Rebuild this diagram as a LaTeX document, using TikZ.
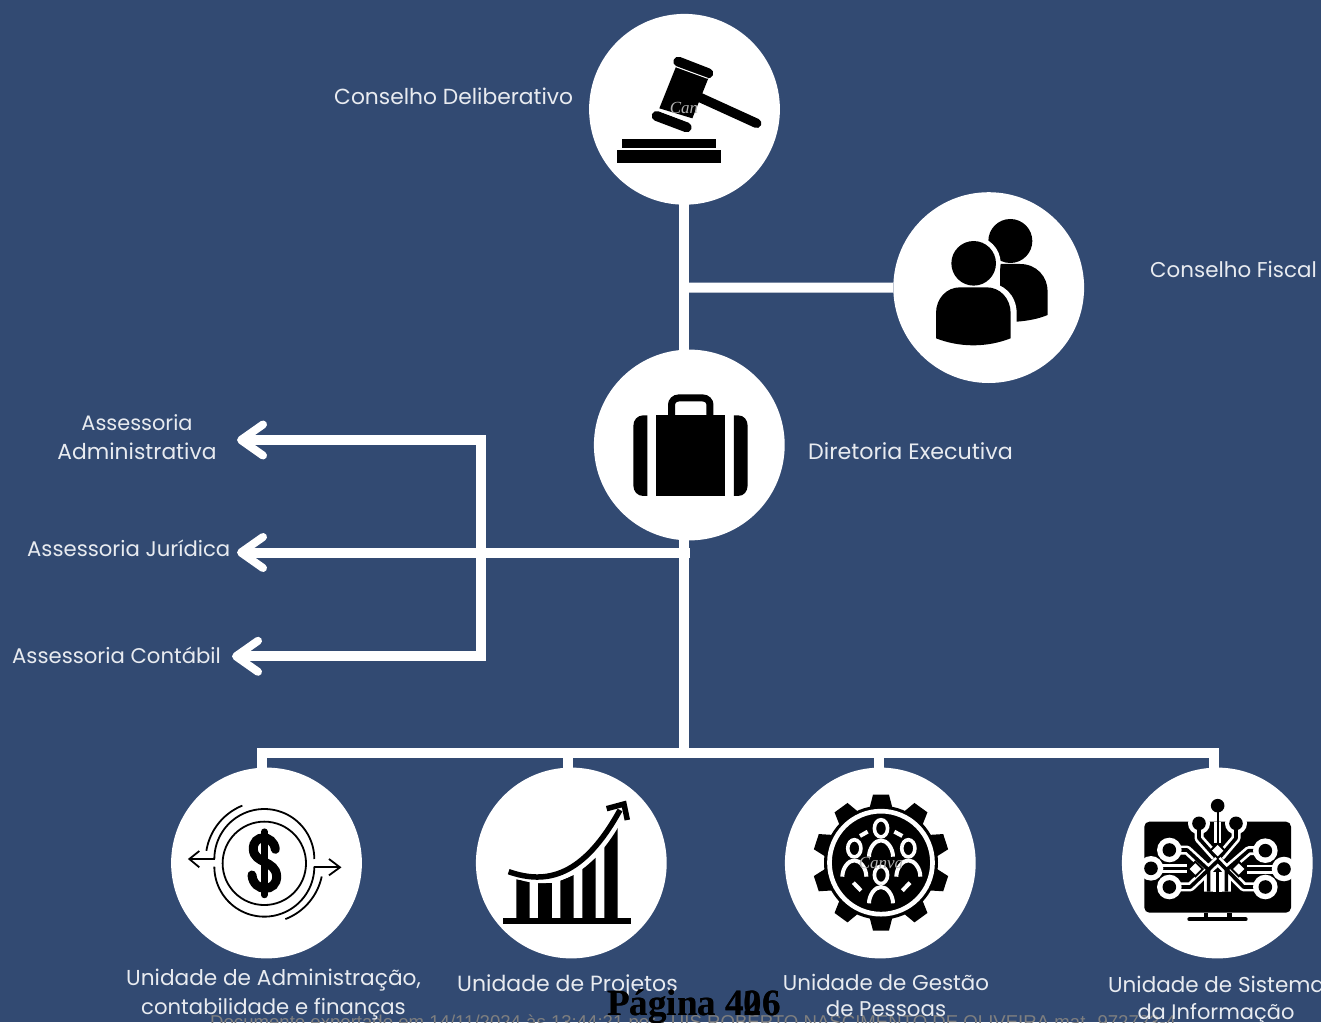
\documentclass[tikz,border=0pt]{standalone}
\usepackage{fontspec}
\setmainfont{Poppins}
\newfontfamily\pagfont{Liberation Serif}
\newfontfamily\docfont{Liberation Sans}
\usetikzlibrary{arrows.meta}
\pgfdeclarelayer{connlayer}
\pgfsetlayers{connlayer,main}
\definecolor{bgblue}{HTML}{324A72}
\definecolor{labelc}{HTML}{E8EBF0}
\definecolor{docgray}{HTML}{7F7F7F}
\tikzset{
  disc/.style={circle,fill=white,draw=none,minimum size=190.8pt,inner sep=0pt},
  conn/.style={draw=white,line width=10pt},
  arrowconn/.style={conn,-{Straight Barb[round,length=22pt,width=31pt,line width=8pt]}},
  fs/.style={font=\fontsize{#1}{26}\selectfont},
  lab/.style={text=labelc,inner sep=0pt},
  labl/.style={lab,anchor=west,fs=#1},
  labc/.style={lab,anchor=center,fs=#1},
  ic/.style={shift={#1},x=0.3333pt,y=-0.3333pt},
  wm/.style={text=gray!60,font=\pagfont\itshape\fontsize{17}{17}\selectfont,inner sep=0pt},
  pagina/.style={text=black,font=\pagfont\bfseries\fontsize{37}{37}\selectfont,inner sep=0pt,anchor=base west},
}
\begin{document}
\begin{tikzpicture}[x=1pt,y=-1pt]
\useasboundingbox (0,0) rectangle (1321,1022);
\clip (0,0) rectangle (1321,1022);

% discs
\node[disc] (c1) at (684.5,109.3) {};
\node[disc] (c2) at (988.7,287.6) {};
\node[disc] (c3) at (689.3,445) {};
\node[disc] (u1) at (266.5,863) {};
\node[disc] (u2) at (571.3,863) {};
\node[disc] (u3) at (880.3,863) {};
\node[disc] (u4) at (1217.3,863) {};

% junctions
\coordinate (j1) at (684.3,287.5);
\coordinate (j2) at (690,552.5);
\coordinate (j3) at (684.3,752.5);
\coordinate (spt) at (480.7,440);
\coordinate (spm) at (480.7,552.5);
\coordinate (spb) at (480.7,656.3);
\coordinate (a1) at (237,440);
\coordinate (a2) at (237,552.5);
\coordinate (a3) at (232,656.3);
\coordinate (bl) at (257.2,752.5);
\coordinate (br) at (1219.3,752.5);
\coordinate (d1) at (262.2,775);
\coordinate (d2) at (568.3,775);
\coordinate (d3) at (878.7,775);
\coordinate (d4) at (1214.3,775);

\begin{pgfonlayer}{connlayer}
  \fill[bgblue] (0,0) rectangle (1321,1022);
  \draw[conn] (684.3,109) -- (684.3,445);
  \draw[conn] (j1) -- (c2);
  \draw[conn] (684.3,445) -- (j3);
  \draw[arrowconn] (j2) -- (a2);
  \draw[conn] (480.7,435) -- (480.7,661.3);
  \draw[arrowconn] (spt) -- (a1);
  \draw[arrowconn] (spb) -- (a3);
  \draw[conn] (bl) -- (br);
  \draw[conn] (d1 |- bl) -- (d1);
  \draw[conn] (d2 |- bl) -- (d2);
  \draw[conn] (d3 |- bl) -- (d3);
  \draw[conn] (d4 |- bl) -- (d4);
\end{pgfonlayer}

% gavel
\begin{scope}[ic={(580,10)}]
  \fill (288,170) -- (385,205) -- (337,325) -- (238,295) -- cycle;
  \draw[line width=10pt,line cap=round] (295,155) -- (385,190);
  \draw[line width=10pt,line cap=round] (230,318) -- (320,352);
  \draw[line width=9.5pt,line cap=round] (350,258) -- (530,340);
  \draw[white,line width=1pt] (287,170) -- (383,205);
  \draw[white,line width=1pt] (240,303) -- (335,338);
  \fill (126,386) rectangle (409,414);
  \fill (111,419) rectangle (423,459);
  \node[wm] (wm1) at (312,295) {Can};
\end{scope}

% people
\begin{scope}[ic={(880,185)}]
  \fill (360,237) -- (420,237) .. controls (470,237) and (503,275) .. (503,320) -- (503,390) .. controls (475,402) and (440,408) .. (410,410) -- (360,410) -- cycle;
  \fill (391,168) circle[radius=22pt];
  \fill[white] (281,235) circle[radius=27pt];
  \fill[white] (150,480) -- (150,385) .. controls (150,330) and (190,293) .. (240,293) -- (320,293) .. controls (370,293) and (410,330) .. (410,385) -- (410,480) -- cycle;
  \fill (168,460) -- (168,385) .. controls (168,340) and (200,307) .. (240,307) -- (320,307) .. controls (360,307) and (392,340) .. (392,385) -- (392,460) .. controls (320,488) and (240,488) .. (168,460) -- cycle;
  \fill (281,235) circle[radius=22.3pt];
\end{scope}

% briefcase
\begin{scope}[ic={(580,340)}]
  \fill (202,226) -- (190,226) .. controls (172,226) and (160,240) .. (160,258) -- (160,436) .. controls (160,454) and (172,468) .. (190,468) -- (202,468) -- cycle;
  \fill (228,226) rectangle (436,468);
  \fill (462,226) -- (474,226) .. controls (492,226) and (503,240) .. (503,258) -- (503,436) .. controls (503,454) and (492,468) .. (474,468) -- (462,468) -- cycle;
  \draw[line width=7pt,rounded corners=7pt] (274.5,230) -- (274.5,174) -- (390,174) -- (390,230);
\end{scope}

% dollar
\begin{scope}[ic={(160,760)},line width=1.8pt]
  \draw (313,310) circle[radius=41.7pt];
  \draw plot[domain=180:360,samples=50] ({313+150*cos(\x)},{297+150*sin(\x)});
  \draw plot[domain=0:180,samples=50] ({313+150*cos(\x)},{320+150*sin(\x)});
  \draw plot[domain=189:248,samples=24] ({313+176*cos(\x)},{300+176*sin(\x)});
  \draw plot[domain=12:69,samples=24] ({313+176*cos(\x)},{313+176*sin(\x)});
  \draw (165,297) -- (88,297);
  \draw (118,273) -- (88,297) -- (118,322);
  \draw (462,322) -- (540,322);
  \draw (507,297) -- (540,322) -- (507,346);
  \draw[line width=6.5pt,line cap=round] (313,215) -- (313,405);
  \draw[line width=9pt,line cap=round] (346,268) .. controls (340,222) and (278,222) .. (280,268) .. controls (282,312) and (347,300) .. (350,348) .. controls (352,398) and (280,398) .. (276,345);
\end{scope}

% chart
\begin{scope}[ic={(470,760)}]
  \fill (98,475) rectangle (483,491);
  \fill (139,358) -- (179,365) -- (179,480) -- (139,480) -- cycle;
  \fill (205,370) -- (245,370) -- (245,480) -- (205,480) -- cycle;
  \fill (271,362) -- (311,345) -- (311,480) -- (271,480) -- cycle;
  \fill (337,325) -- (377,293) -- (377,480) -- (337,480) -- cycle;
  \fill (403,258) -- (443,200) -- (443,480) -- (403,480) -- cycle;
  \draw[white,line width=10pt] (116,330) .. controls (230,385) and (345,355) .. (448,165);
  \draw[line width=5.5pt] (116,335) .. controls (230,375) and (340,350) .. (450,150);
  \draw[line width=5.5pt] (410,146) -- (462,132) -- (472,180);
\end{scope}

% gear
\begin{scope}[ic={(775,760)}]
  \coordinate (gc) at (318,308);
  \fill (gc) circle[radius=57pt];
  \foreach \a in {0,36,...,324} {
    \fill ({318+165*sin(\a)-34*cos(\a)},{308-165*cos(\a)-34*sin(\a))})
       -- ({318+204*sin(\a)-24*cos(\a)},{308-204*cos(\a)-24*sin(\a))})
       -- ({318+204*sin(\a)+24*cos(\a)},{308-204*cos(\a)+24*sin(\a))})
       -- ({318+165*sin(\a)+34*cos(\a)},{308-165*cos(\a)+34*sin(\a))}) -- cycle;
  }
  \draw[white,line width=4.7pt] (gc) circle[radius=51.5pt];
  \foreach \cx/\cy in {238/265,400/265,318/205,318/345} {
    \draw[white,line width=3.6pt] (\cx,\cy) ellipse[x radius=6.6pt,y radius=8.6pt];
    \fill[black] (\cx-46,\cy+90) -- (\cx-46,\cy+50) -- (\cx,\cy+29) -- (\cx+46,\cy+50) -- (\cx+46,\cy+90) -- cycle;
    \draw[white,line width=4pt] (\cx-36,\cy+85) .. controls (\cx-36,\cy+60) and (\cx-18,\cy+36) .. (\cx,\cy+36) .. controls (\cx+18,\cy+36) and (\cx+36,\cy+60) .. (\cx+36,\cy+85);
  }
  \draw[white,line width=4pt] (255,228) -- (278,215);
  \draw[white,line width=4pt] (358,215) -- (382,228);
  \draw[white,line width=4pt] (235,368) -- (258,392);
  \draw[white,line width=4pt] (382,392) -- (405,368);
  \node[wm] (wm2) at (318,308) {Canva};
\end{scope}

% circuit monitor
\begin{scope}[ic={(1112,760)}]
  \fill[rounded corners=5pt] (97,185) rectangle (537,458);
  \fill (275,458) rectangle (289,478);
  \fill (345,458) rectangle (359,478);
  \draw[line width=4pt,line cap=round] (232,478) -- (401,478);
  \fill[white] (261,190) circle[radius=11pt];
  \fill[white] (372,190) circle[radius=11pt];
  \foreach \bw/\cc in {9pt/white,3.6pt/black} {
    \draw[\cc,line width=\bw,line join=round] (261,190) -- (261,235) -- (310,290);
    \draw[\cc,line width=\bw,line join=round] (372,190) -- (372,235) -- (325,290);
    \draw[\cc,line width=\bw,line join=round] (172,381) -- (235,381) -- (320,300);
    \draw[\cc,line width=\bw,line join=round] (460,381) -- (395,381) -- (315,300);
    \draw[\cc,line width=\bw,line join=round] (172,270) -- (225,270) -- (290,330) -- (290,395);
    \draw[\cc,line width=\bw,line join=round] (460,272) -- (410,272) -- (343,330) -- (343,395);
    \draw[\cc,line width=\bw,line join=round] (317,335) -- (317,395);
    \draw[\cc,line width=\bw,line join=round] (117,325) -- (225,325);
    \draw[\cc,line width=\bw,line join=round] (516,327) -- (405,327);
  }
  \draw[white,line width=7pt] (317,185) -- (317,250);
  \draw[black,line width=2.2pt] (317,137) -- (317,250);
  \foreach \cx/\cy in {172/270,117/325,172/381,460/272,516/327,460/381} {
    \fill[white] (\cx,\cy) circle[radius=12.3pt];
  }
  \foreach \cx/\cy in {172/270,117/325,172/381,460/272,516/327,460/381,317/137,261/190,372/190} {
    \fill[black] (\cx,\cy) circle[radius=6.8pt];
  }
  \foreach \cx/\cy in {250/327,380/327,317/272} {
    \fill[black] (\cx-26,\cy) -- (\cx,\cy-26) -- (\cx+26,\cy) -- (\cx,\cy+26) -- cycle;
    \fill[white] (\cx-17,\cy) -- (\cx,\cy-17) -- (\cx+17,\cy) -- (\cx,\cy+17) -- cycle;
  }
\end{scope}

% document line
\node[anchor=base west,inner sep=0pt,text=docgray,font=\docfont\fontsize{18.6}{18.6}\selectfont] (doc) at (210,1028.5) {Documento exportado em 14/11/2024 às 13:44:21 por LUIS ROBERTO NASCIMENTO DE OLIVEIRA mat. 972723-4};

% labels
\node[labl=21.8] (t1) at (334,96.5) {Conselho Deliberativo};
\node[labl=21.4] (t2) at (1150,269.5) {Conselho Fiscal};
\node[labl=22.2] (t3) at (808,451.5) {Diretoria Executiva};
\node[labc=20.9] (t4a) at (137,422.5) {Assessoria};
\node[labc=21.8] (t4b) at (137,451.5) {Administrativa};
\node[labl=21.2] (t5) at (27,548) {Assessoria Jurídica};
\node[labl=21.2] (t6) at (12,655) {Assessoria Contábil};
\node[labc=21.65] (t7a) at (273.5,980.5) {Unidade de Administração,};
\node[labc=21.2] (t7b) at (273.5,1009.5) {contabilidade e finanças};
\node[labl=22] (t8) at (457,986) {Unidade de Projetos};
\node[labc=21.4] (t9a) at (886,982) {Unidade de Gestão};
\node[labc=21.3] (t9b) at (886,1009) {de Pessoas};
\node[labl=21.5] (t10a) at (1108,984) {Unidade de Sistema};
\node[labc=21] (t10b) at (1216,1014) {da Informação};

% page mark (overprinted)
\node[pagina] (p1) at (607,1015) {Página 406};
\node[pagina] (p2) at (607,1015) {Página 426};
\end{tikzpicture}
\end{document}
